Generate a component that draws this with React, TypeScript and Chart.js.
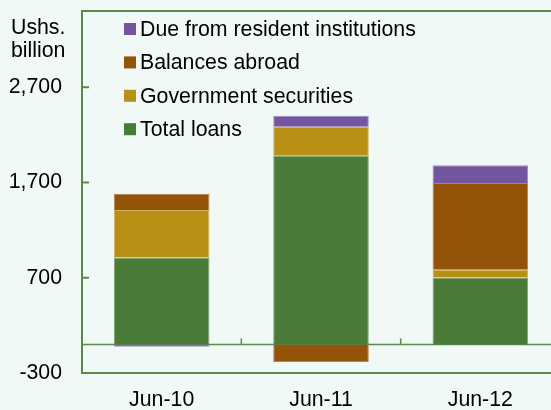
import React, { useEffect, useRef } from "react";
import { Chart, registerables } from "chart.js";
Chart.register(...registerables);

const categories = ["Jun-10", "Jun-11", "Jun-12"];
const totalLoans = [913, 1980, 703];
const governmentSecurities = [497, 304, 81];
const balancesAbroad = [171, -185, 910];
const dueFromResident = [-25, 116, 188];
const yTicks = [-300, 700, 1700, 2700];
const yMin = -300;
const yMax = 3500;
const unitLabel = ["Ushs.", "billion"];

const FONT = "'Liberation Sans', Arial, sans-serif";
const FS = 21.3;
const BG = "#f1f9f6";
const LINE = "#5a8a48";

const decorPlugin = {
  id: "decor",
  beforeDraw(chart: any) {
    const { ctx, width, height } = chart;
    ctx.save();
    ctx.fillStyle = BG;
    ctx.fillRect(0, 0, width, height);
    ctx.restore();
  },
  beforeDatasetsDraw(chart: any) {
    const { ctx, chartArea } = chart;
    const y = chart.scales.y;
    const x = chart.scales.x;
    ctx.save();
    ctx.strokeStyle = LINE;
    const y0 = y.getPixelForValue(0);
    ctx.lineWidth = 1.5;
    ctx.beginPath();
    ctx.moveTo(chartArea.left, y0);
    ctx.lineTo(chartArea.right, y0);
    ctx.stroke();
    const step = x.getPixelForValue(1) - x.getPixelForValue(0);
    for (let i = 0; i < categories.length; i++) {
      const xb = x.getPixelForValue(i) + step / 2;
      ctx.beginPath();
      ctx.moveTo(xb, y0);
      ctx.lineTo(xb, y0 - 6);
      ctx.stroke();
    }
    ctx.restore();
  },
  afterDatasetsDraw(chart: any) {
    const { ctx, chartArea } = chart;
    const y = chart.scales.y;
    ctx.save();
    ctx.strokeStyle = LINE;
    ctx.lineWidth = 2;
    ctx.beginPath();
    ctx.moveTo(chartArea.right + 5, chartArea.top);
    ctx.lineTo(chartArea.left, chartArea.top);
    ctx.lineTo(chartArea.left, chartArea.bottom);
    ctx.lineTo(chartArea.right + 5, chartArea.bottom);
    ctx.stroke();
    for (const v of yTicks) {
      const py = y.getPixelForValue(v);
      ctx.beginPath();
      ctx.moveTo(chartArea.left, py);
      ctx.lineTo(chartArea.left + 7, py);
      ctx.stroke();
    }
    ctx.fillStyle = "#000";
    ctx.font = `${FS}px ${FONT}`;
    ctx.textAlign = "left";
    ctx.textBaseline = "middle";
    ctx.fillText(unitLabel[0], 11, 28);
    ctx.fillText(unitLabel[1], 11, 51);
    const ds = chart.data.datasets.slice().reverse();
    ds.forEach((d: any, i: number) => {
      const cy = 29 + i * 33.4;
      ctx.fillStyle = d.backgroundColor;
      ctx.fillRect(124, cy - 6, 12, 12);
      ctx.fillStyle = "#000";
      ctx.fillText(d.label, 140, cy + 1);
    });
    ctx.restore();
  },
};

export default function App() {
  const ref = useRef<HTMLCanvasElement | null>(null);
  useEffect(() => {
    document.body.style.margin = "0";
    const canvas = ref.current!;
    const chart = new Chart(canvas, {
      type: "bar",
      data: {
        labels: categories,
        datasets: [
          { label: "Total loans", data: totalLoans, backgroundColor: "#4a7a38", borderColor: "#7fa56e", borderWidth: 1 },
          { label: "Government securities", data: governmentSecurities, backgroundColor: "#b89016", borderColor: "#d4b25a", borderWidth: 1 },
          { label: "Balances abroad", data: balancesAbroad, backgroundColor: "#93540a", borderColor: "#b7844c", borderWidth: 1 },
          { label: "Due from resident institutions", data: dueFromResident, backgroundColor: "#7455a0", borderColor: "#a08cc4", borderWidth: 1 },
        ],
      },
      options: {
        responsive: false,
        animation: false,
        layout: { padding: { top: 11, right: 2, left: 0, bottom: 0 } },
        plugins: { legend: { display: false }, tooltip: { enabled: false } },
        datasets: { bar: { categoryPercentage: 1, barPercentage: 0.6 } },
        scales: {
          x: {
            stacked: true,
            grid: { display: false },
            border: { display: false },
            ticks: { color: "#000", font: { family: FONT, size: FS }, padding: 6, maxRotation: 0 },
            afterFit: (s: any) => { s.height = 37; s.paddingLeft = 0; s.paddingRight = 0; },
          },
          y: {
            stacked: true,
            min: yMin,
            max: yMax,
            grid: { display: false },
            border: { display: false },
            afterBuildTicks: (s: any) => { s.ticks = yTicks.map((v) => ({ value: v })); },
            ticks: {
              color: "#000",
              font: { family: FONT, size: FS },
              padding: 12,
              callback: (v: any) => Number(v).toLocaleString("en-US"),
            },
            afterFit: (s: any) => { s.width = 82; s.paddingTop = 0; s.paddingBottom = 0; },
          },
        },
      },
      plugins: [decorPlugin],
    });
    return () => chart.destroy();
  }, []);
  return (
    <div style={{ position: "fixed", left: 0, top: 0, width: 551, height: 410, overflow: "hidden", background: BG }}>
      <canvas ref={ref} width={562} height={410} style={{ display: "block" }} />
    </div>
  );
}
